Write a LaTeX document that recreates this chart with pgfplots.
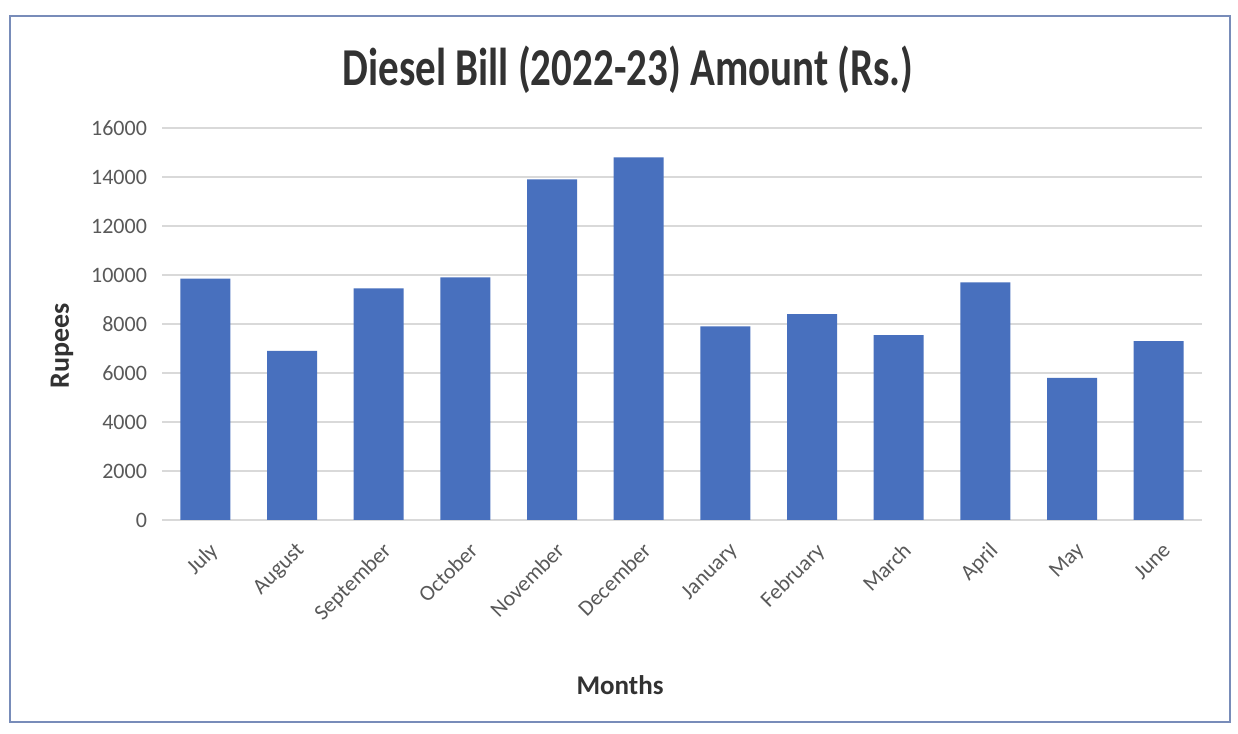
\documentclass[border=0pt]{standalone}
\usepackage{pgfplots}
\pgfplotsset{compat=1.18}
\usepackage{fontspec}
\setmainfont{Carlito}
\definecolor{barblue}{RGB}{72,112,190}
\definecolor{tickgray}{RGB}{89,89,89}
\definecolor{gridgray}{RGB}{217,217,217}
\definecolor{titlegray}{RGB}{50,50,50}
\definecolor{framecol}{RGB}{120,140,185}
\begin{document}
\begin{tikzpicture}[x=1pt,y=1pt]
\path[use as bounding box, fill=white] (0,0) rectangle (619,367);
\draw[framecol, line width=1.2pt] (5,6) rectangle (615,359);
\begin{axis}[
  at={(81pt,107pt)}, anchor=south west,
  scale only axis, width=520pt, height=196pt,
  xmin=-0.5, xmax=11.5, ymin=0, ymax=16000,
  ytick={0,2000,...,16000},
  xtick={0,...,11},
  xticklabels={July,August,September,October,November,December,January,February,March,April,May,June},
  ymajorgrids, grid style={gridgray, line width=0.7pt},
  axis line style={draw=none}, tick style={draw=none},
  scaled y ticks=false,
  /pgf/number format/assume math mode=true,
  /pgf/number format/fixed,
  /pgf/number format/1000 sep={},
  y tick label style={font=\fontsize{11}{13}\selectfont, color=tickgray, xshift=-4pt},
  x tick label style={rotate=45, anchor=north east, font=\fontsize{11}{13}\selectfont, color=tickgray, yshift=-2pt},
  ybar, bar width=25pt,
]
\addplot[fill=barblue, draw=none] coordinates {
(0,9850) (1,6900) (2,9450) (3,9900) (4,13900) (5,14800)
(6,7900) (7,8400) (8,7550) (9,9700) (10,5800) (11,7300)};
\end{axis}
\node[font=\bfseries\fontsize{20.5}{24}\selectfont, color=titlegray, yscale=1.3] at (314,332) {Diesel Bill (2022-23) Amount (Rs.)};
\node[rotate=90, font=\bfseries\fontsize{14}{16}\selectfont, color=titlegray] at (31,194) {Rupees};
\node[font=\bfseries\fontsize{13.5}{16}\selectfont, color=titlegray] at (310,24.5) {Months};
\end{tikzpicture}
\end{document}
